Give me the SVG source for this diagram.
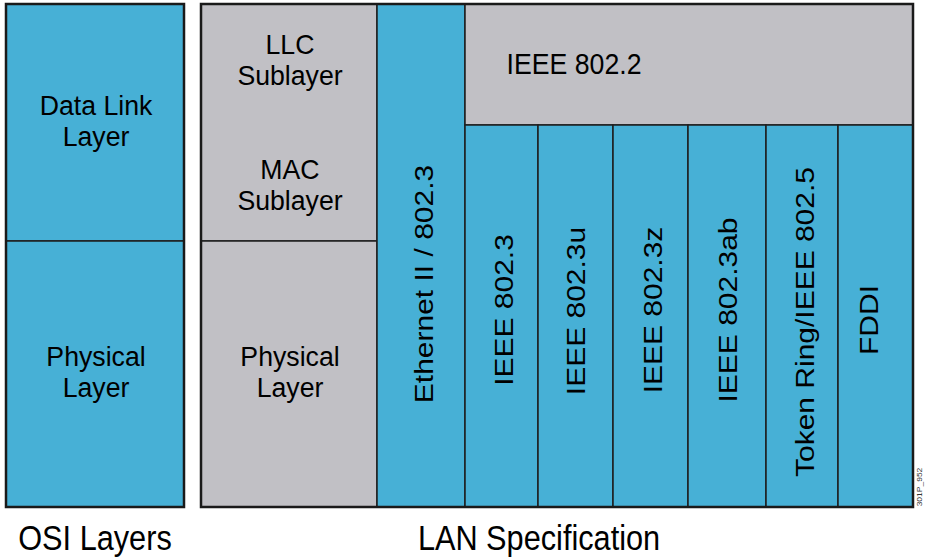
<svg xmlns="http://www.w3.org/2000/svg" width="939" height="560" viewBox="0 0 939 560">
<style>
.blue{fill:#47B0D6;stroke:#1e1e1e;stroke-width:1.5}
.gray{fill:#C1C0C5;stroke:#1e1e1e;stroke-width:1.5}
.frame{fill:none;stroke:#1a1a1a;stroke-width:2.5}
text{font-family:"Liberation Sans",Arial,sans-serif;fill:#000}
.t{font-size:30px;text-anchor:middle}
.t2{font-size:27.5px;text-anchor:middle}
.cap{font-size:34.5px;text-anchor:middle}
.tiny{font-size:8.5px;text-anchor:middle;fill:#333}
</style>
<rect width="939" height="560" fill="#fff"/>
<g id="osi-data-link">
<rect class="blue" x="6" y="4" width="178" height="237"/>
<text class="t2" transform="translate(96,115) scale(0.97,1)"><tspan x="0" y="0">Data Link</tspan><tspan x="0" y="31">Layer</tspan></text>
</g>
<g id="osi-physical">
<rect class="blue" x="6" y="241" width="178" height="266"/>
<text class="t2" transform="translate(96,366) scale(0.97,1)"><tspan x="0" y="0">Physical</tspan><tspan x="0" y="31">Layer</tspan></text>
</g>
<rect class="frame" x="6" y="4" width="178" height="503"/>
<g id="llc-mac">
<rect class="gray" x="201" y="4" width="176" height="237"/>
<text class="t2" transform="translate(290,54) scale(0.97,1)"><tspan x="0" y="0">LLC</tspan><tspan x="0" y="31">Sublayer</tspan></text>
<text class="t2" transform="translate(290,179) scale(0.97,1)"><tspan x="0" y="0">MAC</tspan><tspan x="0" y="31">Sublayer</tspan></text>
</g>
<g id="lan-physical">
<rect class="gray" x="201" y="241" width="176" height="266"/>
<text class="t2" transform="translate(290,366) scale(0.97,1)"><tspan x="0" y="0">Physical</tspan><tspan x="0" y="31">Layer</tspan></text>
</g>
<g id="ethernet">
<rect class="blue" x="377" y="4" width="88" height="503"/>
<text class="t" transform="translate(433,284) scale(0.89,1) rotate(-90)">Ethernet II / 802.3</text>
</g>
<g id="ieee8022">
<rect class="gray" x="465" y="4" width="448" height="121"/>
<text class="t" transform="translate(574,74) scale(0.89,1)">IEEE 802.2</text>
</g>
<g id="ieee8023">
<rect class="blue" x="465" y="125" width="73" height="382"/>
<text class="t" transform="translate(513,310) scale(0.89,1) rotate(-90)">IEEE 802.3</text>
</g>
<g id="ieee8023u">
<rect class="blue" x="538" y="125" width="75" height="382"/>
<text class="t" transform="translate(585,311) scale(0.89,1) rotate(-90)">IEEE 802.3u</text>
</g>
<g id="ieee8023z">
<rect class="blue" x="613" y="125" width="75" height="382"/>
<text class="t" transform="translate(662,310) scale(0.89,1) rotate(-90)">IEEE 802.3z</text>
</g>
<g id="ieee8023ab">
<rect class="blue" x="688" y="125" width="78" height="382"/>
<text class="t" transform="translate(737,310) scale(0.89,1) rotate(-90)">IEEE 802.3ab</text>
</g>
<g id="tokenring">
<rect class="blue" x="766" y="125" width="72" height="382"/>
<text class="t" transform="translate(814,322) scale(0.89,1) rotate(-90)">Token Ring/IEEE 802.5</text>
</g>
<g id="fddi">
<rect class="blue" x="838" y="125" width="75" height="382"/>
<text class="t" transform="translate(878,320) scale(0.89,1) rotate(-90)">FDDI</text>
</g>
<g id="connectors"></g>
<rect class="frame" x="201" y="4" width="712" height="503"/>
<text class="cap" transform="translate(95,550) scale(0.89,1)">OSI Layers</text>
<text class="cap" transform="translate(539,550) scale(0.89,1)">LAN Specification</text>
<text class="tiny" transform="translate(922,487) scale(0.89,1) rotate(-90)">301P_952</text>
</svg>
